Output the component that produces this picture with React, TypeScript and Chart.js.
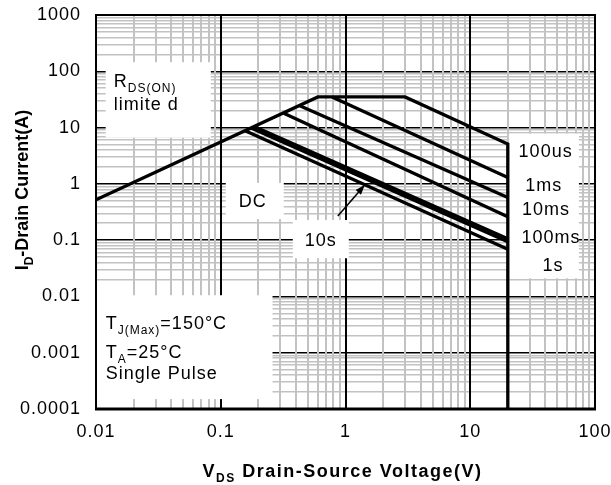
import React, { useEffect, useRef } from 'react';
import { Chart, registerables } from 'chart.js';

Chart.register(...registerables);

// ---- axis ticks ----
const xDecades = [0.01, 0.1, 1, 10, 100];
const xTickLabels = ['0.01', '0.1', '1', '10', '100'];
const yDecades = [0.0001, 0.001, 0.01, 0.1, 1, 10, 100, 1000];
const yTickLabels = ['0.0001', '0.001', '0.01', '0.1', '1', '10', '100', '1000'];
const minorSteps = [2, 3, 4, 5, 6, 7, 8, 9];

// ---- SOA curves (VDS in V, ID in A) ----
const seriesLabels = ['100us', '1ms', '10ms', '100ms', '1s', '10s', 'DC'];
// boundary: RDS(ON) limit -> current limit -> 100us -> VDS max
const limitV = [0.01, 0.6, 3, 20, 20];
const limitI = [0.52, 35, 35, 5.1, 0.0001];
const pulse1msV = [0.78, 20];
const pulse1msI = [35, 1.3];
const pulse10msV = [0.43, 20];
const pulse10msI = [24.5, 0.57];
const pulse100msV = [0.32, 20];
const pulse100msI = [18, 0.26];
const pulse1sV = [0.185, 20];
const pulse1sI = [10.4, 0.106];
const pulse10sV = [0.175, 20];
const pulse10sI = [9.8, 0.094];
const dcV = [0.157, 20];
const dcI = [8.8, 0.069];

const curveV = [limitV, pulse1msV, pulse10msV, pulse100msV, pulse1sV, pulse10sV, dcV];
const curveI = [limitI, pulse1msI, pulse10msI, pulse100msI, pulse1sI, pulse10sI, dcI];

const FONT = '"Liberation Sans", Arial, Helvetica, sans-serif';

type Part = { t: string; sub?: boolean };

// annotation layout (data coordinates)
const noteBoxes = [
  { v0: 0.01196, v1: 0.0832, i0: 6.63, i1: 145 },
  { v0: 0.1097, v1: 0.32, i0: 0.237, i1: 1.04 },
  { v0: 0.378, v1: 1.063, i0: 0.0477, i1: 0.2276 },
  { v0: 20.4, v1: 74.3, i0: 0.021, i1: 7.8 },
  { v0: 0.01, v1: 0.26, i0: 0.00015, i1: 0.0105 },
];

const noteTexts: { parts: Part[]; v: number; i: number; align: 'left' | 'center'; middle?: boolean }[] = [
  { parts: [{ t: 'R' }, { t: 'DS(ON)', sub: true }], v: 0.01387, i: 51.8, align: 'left' },
  { parts: [{ t: 'limite d' }], v: 0.01387, i: 20.9, align: 'left' },
  { parts: [{ t: 'DC' }], v: 0.1806, i: 0.497, align: 'center', middle: true },
  { parts: [{ t: '10s' }], v: 0.634, i: 0.104, align: 'center', middle: true },
  { parts: [{ t: '100us' }], v: 40.2, i: 3.96, align: 'center', middle: true },
  { parts: [{ t: '1ms' }], v: 38.9, i: 0.98, align: 'center', middle: true },
  { parts: [{ t: '10ms' }], v: 40.4, i: 0.365, align: 'center', middle: true },
  { parts: [{ t: '100ms' }], v: 44.3, i: 0.118, align: 'center', middle: true },
  { parts: [{ t: '1s' }], v: 46.0, i: 0.0373, align: 'center', middle: true },
  { parts: [{ t: 'T' }, { t: 'J(Max)', sub: true }, { t: '=150°C' }], v: 0.01196, i: 0.00268, align: 'left' },
  { parts: [{ t: 'T' }, { t: 'A', sub: true }, { t: '=25°C' }], v: 0.01196, i: 0.000815, align: 'left' },
  { parts: [{ t: 'Single Pulse' }], v: 0.01196, i: 0.000343, align: 'left' },
];

const arrowFrom = { v: 0.868, i: 0.268 };
const arrowTo = { v: 1.43, i: 0.96 };

const xTitle: Part[] = [{ t: 'V' }, { t: 'DS', sub: true }, { t: ' Drain-Source Voltage(V)' }];
const yTitle: Part[] = [{ t: 'I' }, { t: 'D', sub: true }, { t: '-Drain Current(A)' }];

function isDecade(v: number) {
  const l = Math.log10(v);
  return Math.abs(l - Math.round(l)) < 1e-6;
}

function buildTicks(decades: number[]) {
  const out: { value: number }[] = [];
  decades.forEach((d, k) => {
    out.push({ value: d });
    if (k < decades.length - 1) minorSteps.forEach((m) => out.push({ value: d * m }));
  });
  return out;
}

function labelFor(value: number, decades: number[], labels: string[]) {
  const k = decades.findIndex((d) => Math.abs(value - d) / d < 1e-6);
  return k >= 0 ? labels[k] : '';
}

function drawRich(ctx: any, parts: Part[], x: number, y: number, size: number, weight: string, align: string, spacing: number) {
  ctx.save();
  ctx.letterSpacing = spacing + 'px';
  ctx.textBaseline = 'alphabetic';
  ctx.textAlign = 'left';
  ctx.fillStyle = '#000';
  const fonts = parts.map((p) => `${weight} ${p.sub ? Math.round(size * 0.68) : size}px ${FONT}`);
  let total = 0;
  const widths = parts.map((p, k) => {
    ctx.font = fonts[k];
    const w = ctx.measureText(p.t).width;
    total += w;
    return w;
  });
  let cx = align === 'center' ? x - total / 2 : x;
  parts.forEach((p, k) => {
    ctx.font = fonts[k];
    ctx.fillText(p.t, cx, p.sub ? y + size * 0.28 : y);
    cx += widths[k];
  });
  ctx.restore();
}

const annotationPlugin = {
  id: 'soaNotes',
  beforeDraw(chart: any) {
    chart.ctx.letterSpacing = '1px';
  },
  beforeDatasetsDraw(chart: any) {
    const { ctx, scales } = chart;
    const xs = scales.x;
    const ys = scales.y;
    ctx.save();
    ctx.fillStyle = '#fff';
    noteBoxes.forEach((b) => {
      const x0 = xs.getPixelForValue(b.v0);
      const x1 = xs.getPixelForValue(b.v1);
      const y0 = ys.getPixelForValue(b.i1);
      const y1 = ys.getPixelForValue(b.i0);
      ctx.fillRect(x0, y0, x1 - x0, y1 - y0);
    });
    ctx.restore();
    noteTexts.forEach((n) => {
      const px = xs.getPixelForValue(n.v);
      let py = ys.getPixelForValue(n.i);
      if (n.middle) py += 18 * 0.36;
      drawRich(ctx, n.parts, px, py, 18, 'normal', n.align, 1);
    });
  },
  afterDatasetsDraw(chart: any) {
    const { ctx, scales, chartArea } = chart;
    const xs = scales.x;
    const ys = scales.y;
    // arrow
    const x0 = xs.getPixelForValue(arrowFrom.v);
    const y0 = ys.getPixelForValue(arrowFrom.i);
    const x1 = xs.getPixelForValue(arrowTo.v);
    const y1 = ys.getPixelForValue(arrowTo.i);
    const ang = Math.atan2(y1 - y0, x1 - x0);
    const c = Math.cos(ang);
    const s = Math.sin(ang);
    const L = 10;
    const W = 3.5;
    ctx.save();
    ctx.strokeStyle = '#000';
    ctx.fillStyle = '#000';
    ctx.lineWidth = 1.5;
    ctx.beginPath();
    ctx.moveTo(x0, y0);
    ctx.lineTo(x1 - c * L * 0.8, y1 - s * L * 0.8);
    ctx.stroke();
    ctx.beginPath();
    ctx.moveTo(x1, y1);
    ctx.lineTo(x1 - L * c + W * s, y1 - L * s - W * c);
    ctx.lineTo(x1 - L * c - W * s, y1 - L * s + W * c);
    ctx.closePath();
    ctx.fill();
    // frame
    ctx.lineWidth = 2;
    ctx.strokeRect(chartArea.left, chartArea.top, chartArea.right - chartArea.left, chartArea.bottom - chartArea.top);
    ctx.lineWidth = 3;
    ctx.beginPath();
    ctx.moveTo(chartArea.left - 1, chartArea.bottom);
    ctx.lineTo(chartArea.right + 1, chartArea.bottom);
    ctx.stroke();
    ctx.restore();
  },
  afterDraw(chart: any) {
    const { ctx, chartArea } = chart;
    const cx = (chartArea.left + chartArea.right) / 2 - 3;
    drawRich(ctx, xTitle, cx, 477, 18, 'bold', 'center', 1.5);
    ctx.save();
    ctx.translate(28, 190);
    ctx.rotate(-Math.PI / 2);
    drawRich(ctx, yTitle, 0, 0, 18, 'bold', 'center', 0);
    ctx.restore();
  },
};

export default function App() {
  const ref = useRef<HTMLCanvasElement | null>(null);
  useEffect(() => {
    if (!ref.current) return;
    const datasets = seriesLabels.map((label, k) => ({
      label,
      data: curveV[k].map((v, j) => ({ x: v, y: curveI[k][j] })),
      showLine: true,
      borderColor: '#000',
      backgroundColor: '#000',
      borderWidth: 3.3,
      pointRadius: 0,
      pointHoverRadius: 0,
      fill: false,
      tension: 0,
    }));
    const gridColor = (major: string, minor: string) => (c: any) =>
      c.tick && !isDecade(c.tick.value) ? minor : major;
    const chart = new Chart(ref.current, {
      type: 'scatter',
      data: { datasets },
      plugins: [annotationPlugin],
      options: {
        responsive: false,
        animation: false,
        devicePixelRatio: 1,
        events: [],
        layout: { padding: { left: 0, right: 16, top: 15, bottom: 0 } },
        plugins: { legend: { display: false }, tooltip: { enabled: false } },
        scales: {
          x: {
            type: 'logarithmic',
            min: 0.01,
            max: 100,
            afterBuildTicks: (s: any) => {
              s.ticks = buildTicks(xDecades);
            },
            afterFit: (s: any) => {
              s.height = 76;
              s.paddingLeft = 0;
              s.paddingRight = 0;
            },
            border: { display: false },
            grid: {
              z: -1,
              drawTicks: false,
              color: gridColor('#000', '#c2c2c2'),
              lineWidth: 2,
            },
            ticks: {
              autoSkip: false,
              maxRotation: 0,
              minRotation: 0,
              padding: 12,
              color: '#000',
              font: { family: FONT, size: 18 },
              callback: (v: any) => labelFor(Number(v), xDecades, xTickLabels),
            },
          },
          y: {
            type: 'logarithmic',
            min: 0.0001,
            max: 1000,
            afterBuildTicks: (s: any) => {
              s.ticks = buildTicks(yDecades);
            },
            afterFit: (s: any) => {
              s.width = 96;
              s.paddingTop = 0;
              s.paddingBottom = 0;
            },
            border: { display: false },
            grid: {
              z: -2,
              drawTicks: false,
              color: gridColor('#000', '#c2c2c2'),
              lineWidth: 1.5,
            },
            ticks: {
              autoSkip: false,
              padding: 15,
              color: '#000',
              font: { family: FONT, size: 18 },
              callback: (v: any) => labelFor(Number(v), yDecades, yTickLabels),
            },
          },
        },
      } as any,
    });
    return () => chart.destroy();
  }, []);
  return (
    <div style={{ position: 'absolute', left: 0, top: 0, width: 611, height: 485, background: '#fff' }}>
      <canvas ref={ref} width={611} height={485} style={{ display: 'block' }} />
    </div>
  );
}
